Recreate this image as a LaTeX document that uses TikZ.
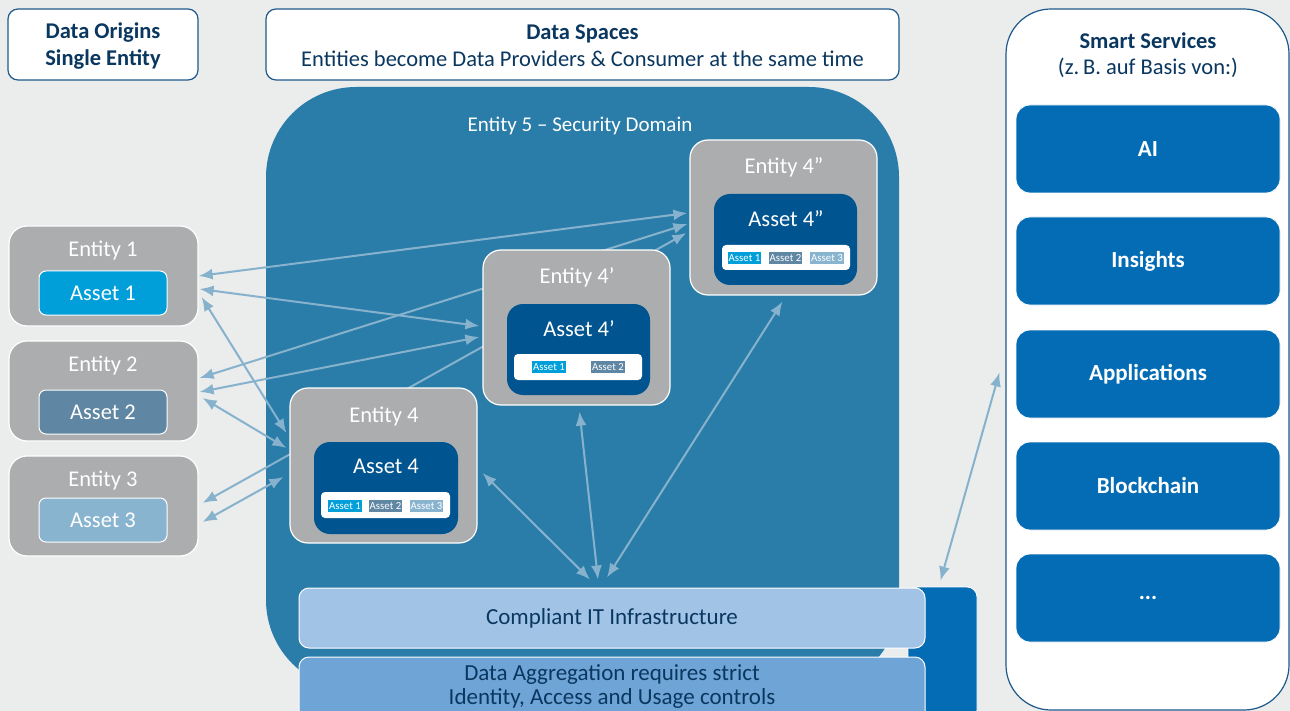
\documentclass[tikz,border=0pt]{standalone}
\usepackage{fontspec}
\setmainfont{Carlito}
\usetikzlibrary{arrows.meta,calc}
\definecolor{bgc}{RGB}{235,236,236}
\definecolor{navy}{RGB}{10,55,95}
\definecolor{hdrblue}{RGB}{30,90,140}
\definecolor{domblue}{RGB}{42,125,168}
\definecolor{entgray}{RGB}{171,173,174}
\definecolor{assetdark}{RGB}{0,84,143}
\definecolor{svcblue}{RGB}{3,108,180}
\definecolor{aone}{RGB}{0,159,218}
\definecolor{atwo}{RGB}{95,134,163}
\definecolor{athree}{RGB}{137,180,208}
\definecolor{arrowc}{RGB}{135,178,205}
\definecolor{ciblue}{RGB}{160,195,230}
\definecolor{agblue}{RGB}{111,164,214}
\pgfdeclarelayer{bg}
\pgfdeclarelayer{arr}
\pgfsetlayers{bg,arr,main}
\begin{document}
\begin{tikzpicture}[x=1pt,y=-1pt,
  sz/.style 2 args={minimum width=#1pt,minimum height=#2pt,inner sep=0pt},
  hdr/.style={draw=hdrblue,line width=1.2pt,fill=white,rounded corners=10pt},
  hdrtxt/.style={text=navy,align=center,font=\fontsize{22.5}{27}\selectfont},
  ent/.style={draw=white,line width=1.2pt,fill=entgray,rounded corners=18pt},
  ast/.style={draw=white,line width=1pt,rounded corners=7pt,text=white,font=\fontsize{22.5}{26}\selectfont},
  bigast/.style={fill=assetdark,rounded corners=16pt},
  strip/.style={fill=white,rounded corners=4pt},
  tag/.style={text=white,font=\fontsize{10.8}{12}\selectfont,inner xsep=1.2pt,inner ysep=0.5pt,minimum height=12pt},
  ttl/.style={text=white,font=\fontsize{22.5}{26}\selectfont,yshift=-1.5pt},
  svc/.style={fill=svcblue,draw=white,line width=.8pt,rounded corners=14pt,text=white,font=\bfseries\fontsize{23}{26}\selectfont},
  con/.style={draw=arrowc,line width=2pt,>={Latex[length=14pt,width=11pt]},<->},
  bar/.style={draw=white,line width=1pt,rounded corners=10pt},
  bartxt/.style={text=navy,align=center,font=\fontsize{23}{24}\selectfont}
]
\useasboundingbox (0,0) rectangle (1290,711);
\begin{pgfonlayer}{bg}
\fill[bgc] (0,0) rectangle (1290,711);
\node[fill=domblue,rounded corners=90pt,sz={633}{603}] (dom) at (582.5,388.5) {};
\end{pgfonlayer}
% headers
\node[hdr,sz={190}{71}] (h1) at (103,44.5) {};
\node[hdrtxt] (h1t) at (103,46) {\bfseries Data Origins\\\bfseries Single Entity};
\node[hdr,sz={633}{71}] (h2) at (582.5,44.5) {};
\node[hdrtxt] (h2t) at (582.5,46) {\bfseries Data Spaces\\Entities become Data Providers \& Consumer at the same time};
\node[text=white,font=\fontsize{21}{26}\selectfont] (doml) at (580,126) {Entity 5 – Security Domain};
% smart services
\node[draw=hdrblue,line width=1.2pt,fill=white,rounded corners=45pt,sz={283}{701}] (ss) at (1147.5,359.5) {};
\node[text=navy,font=\bfseries\fontsize{22.5}{26}\selectfont] (sst) at (1148,41) {Smart Services};
\node[text=navy,font=\fontsize{22.5}{26}\selectfont] (sss) at (1148,68) {(z.\,B. auf Basis von:)};
\node[svc,sz={264}{88}] (s1) at (1148,149) {AI};
\node[svc,sz={264}{88}] (s2) at (1148,261) {Insights};
\node[svc,sz={264}{88}] (s3) at (1148,374) {Applications};
\node[svc,sz={264}{88}] (s4) at (1148,486) {Blockchain};
\node[svc,sz={264}{88}] (s5) at (1148,598) {...};
% left entities
\node[ent,sz={189}{100}] (e1) at (103.5,276) {};
\node[ttl] (e1t) at (103,249) {Entity 1};
\node[ast,fill=aone,sz={128}{44}] (a1) at (103,293) {Asset 1};
\node[ent,sz={189}{100}] (e2) at (103.5,391) {};
\node[ttl] (e2t) at (103,364) {Entity 2};
\node[ast,fill=atwo,sz={128}{44}] (a2) at (103,412) {Asset 2};
\node[ent,sz={189}{100}] (e3) at (103.5,506) {};
\node[ttl] (e3t) at (103,479) {Entity 3};
\node[ast,fill=athree,sz={128}{44}] (a3) at (103,520) {Asset 3};
% entity 4
\node[ent,sz={187}{155}] (e4) at (383.5,465.5) {};
\node[ttl] (e4t) at (384,415) {Entity 4};
\node[bigast,sz={144}{92}] (a4) at (386,488) {};
\node[ttl] (a4t) at (386,465) {Asset 4};
\node[strip,sz={129}{26}] (st4) at (385.5,505) {};
\node[tag,fill=aone] (t41) at (345,506) {Asset 1};
\node[tag,fill=atwo] (t42) at (385.5,506) {Asset 2};
\node[tag,fill=athree] (t43) at (426.5,506) {Asset 3};
% entity 4'
\node[ent,sz={187}{155}] (e4p) at (576.5,327.5) {};
\node[ttl] (e4pt) at (577,276) {Entity 4’};
\node[bigast,sz={143}{91}] (a4p) at (578.5,349.5) {};
\node[ttl] (a4pt) at (579,327) {Asset 4’};
\node[strip,sz={128}{26}] (st4p) at (578,367) {};
\node[tag,fill=aone] (t4p1) at (549,367) {Asset 1};
\node[tag,fill=atwo] (t4p2) at (608,367) {Asset 2};
% entity 4''
\node[ent,sz={187}{155}] (e4pp) at (783.5,217.5) {};
\node[ttl] (e4ppt) at (784,166) {Entity 4”};
\node[bigast,sz={143}{91}] (a4pp) at (785.5,239.5) {};
\node[ttl] (a4ppt) at (786,217) {Asset 4”};
\node[strip,sz={128}{25}] (st4pp) at (786,257.5) {};
\node[tag,fill=aone] (t4pp1) at (744.5,258) {Asset 1};
\node[tag,fill=atwo] (t4pp2) at (785.5,258) {Asset 2};
\node[tag,fill=athree] (t4pp3) at (827,258) {Asset 3};
% bottom bars
\node[fill=svcblue,draw=white,line width=.8pt,rounded corners=10pt,sz={69}{133}] (dk) at (942.5,653.5) {};
\node[bar,fill=ciblue,sz={626}{60}] (ci) at (612,618) {};
\node[bartxt] (cit) at (612,618) {Compliant IT Infrastructure};
\node[bar,fill=agblue,sz={626}{68}] (ag) at (612,691) {};
\node[bartxt] (agt) at (612,687) {Data Aggregation requires strict\\Identity, Access and Usage controls};
% connectors
\begin{pgfonlayer}{arr}
\draw[con] (e1.east) -- ([xshift=-2pt,yshift=4.5pt]e4pp.west);
\draw[con] ([xshift=1pt,yshift=-13pt]e1.east) -- ([xshift=-3pt,yshift=1.5pt]e4p.west);
\draw[con] ([xshift=3pt,yshift=-21pt]e1.east) -- ([xshift=-3pt,yshift=32.5pt]e4.west);
\draw[con] ([xshift=1pt,yshift=13pt]e2.east) -- ([xshift=-2pt,yshift=-6.5pt]e4pp.west);
\draw[con] ([xshift=1pt,yshift=-1pt]e2.east) -- ([xshift=-3pt,yshift=-9.5pt]e4p.west);
\draw[con] ([xshift=4pt,yshift=-7pt]e2.east) -- ([xshift=-3pt,yshift=17.5pt]e4.west);
\draw[con] ([xshift=4pt,yshift=3pt]e3.east) -- ([xshift=-3pt,yshift=-15.5pt]e4pp.west);
\draw[con] ([xshift=4pt,yshift=-16pt]e3.east) -- ([xshift=-6pt,yshift=-11.5pt]e4.west);
\draw[con] ([xshift=5pt,yshift=-7.5pt]e4.east) -- ([xshift=-22pt,yshift=8pt]ci.north);
\draw[con] ([xshift=3pt,yshift=-6pt]e4p.south) -- ([xshift=-14pt,yshift=8pt]ci.north);
\draw[con] ([xshift=-1pt,yshift=-6pt]e4pp.south) -- ([xshift=-5pt,yshift=10pt]ci.north);
\draw[con] ([xshift=-6pt,yshift=-13pt]ss.west) -- ([xshift=-2pt,yshift=6pt]dk.north);
\end{pgfonlayer}
\end{tikzpicture}
\end{document}
